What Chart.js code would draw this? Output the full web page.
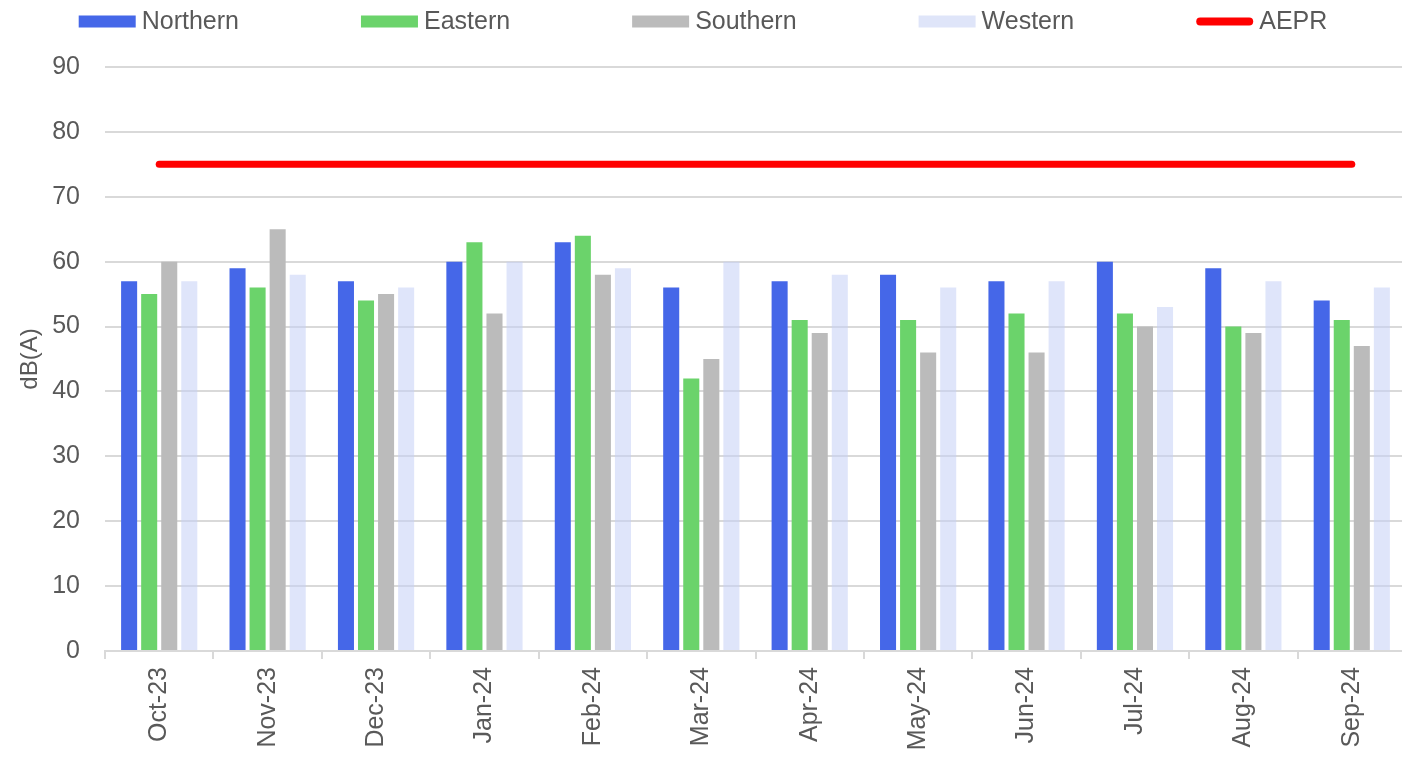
<!DOCTYPE html>
<html>
<head>
<meta charset="utf-8">
<script src="https://cdn.jsdelivr.net/npm/chart.js@4.4.1/dist/chart.umd.min.js"></script>
<style>
  html, body { margin: 0; padding: 0; background: #ffffff; overflow: hidden; }
  #wrap { width: 1402px; height: 760px; position: relative; overflow: hidden; }
  #noiseChart { display: block; }
</style>
</head>
<body>
<div id="wrap"><canvas id="noiseChart" width="1406" height="760"></canvas></div>
<script>
// Monthly average noise levels by region, dB(A)
const months   = ['Oct-23', 'Nov-23', 'Dec-23', 'Jan-24', 'Feb-24', 'Mar-24',
                  'Apr-24', 'May-24', 'Jun-24', 'Jul-24', 'Aug-24', 'Sep-24'];
const northern = [57, 59, 57, 60, 63, 56, 57, 58, 57, 60, 59, 54];
const eastern  = [55, 56, 54, 63, 64, 42, 51, 51, 52, 52, 50, 51];
const southern = [60, 65, 55, 52, 58, 45, 49, 46, 46, 50, 49, 47];
const western  = [57, 58, 56, 60, 59, 60, 58, 56, 57, 53, 57, 56];
const aepr     = [75, 75, 75, 75, 75, 75, 75, 75, 75, 75, 75, 75];
const yMin = 0, yMax = 90, yStep = 10;

const FONT = "'Liberation Sans', Arial, sans-serif";
const TEXT = '#595959';
const GRID = '#d9d9d9';

// Legend drawn across the top of the canvas
const topLegend = {
  id: 'topLegend',
  afterDraw(chart) {
    const ctx = chart.ctx;
    const size = 25, boxW = 57, boxH = 12, gapText = 6, gapItem = 122, cy = 21.5;
    ctx.save();
    ctx.font = size + 'px ' + FONT;
    const items = chart.data.datasets.map(ds => ({
      label: ds.label,
      isLine: ds.type === 'line',
      color: ds.type === 'line' ? ds.borderColor : ds.legendColor || ds.backgroundColor,
      w: boxW + gapText + ctx.measureText(ds.label).width
    }));
    const total = items.reduce((s, it) => s + it.w, 0) + gapItem * (items.length - 1);
    let x = (chart.width - total) / 2;
    ctx.textBaseline = 'middle';
    ctx.textAlign = 'left';
    items.forEach(it => {
      if (it.isLine) {
        ctx.strokeStyle = it.color;
        ctx.lineWidth = 8;
        ctx.lineCap = 'round';
        ctx.beginPath();
        ctx.moveTo(x + 4, cy);
        ctx.lineTo(x + boxW - 4, cy);
        ctx.stroke();
      } else {
        ctx.fillStyle = it.color;
        ctx.fillRect(x, cy - boxH / 2, boxW, boxH);
      }
      ctx.fillStyle = TEXT;
      ctx.fillText(it.label, x + boxW + gapText, cy + 1);
      x += it.w + gapItem;
    });
    ctx.restore();
  }
};

const barCommon = { categoryPercentage: 0.74, barPercentage: 0.8, borderWidth: 0 };

new Chart(document.getElementById('noiseChart'), {
  type: 'bar',
  data: {
    labels: months,
    datasets: [
      { label: 'Northern', data: northern, backgroundColor: '#4567e8', ...barCommon },
      { label: 'Eastern',  data: eastern,  backgroundColor: '#6bd36b', ...barCommon },
      { label: 'Southern', data: southern, backgroundColor: '#bbbbbb', ...barCommon },
      { label: 'Western',  data: western,  backgroundColor: 'rgba(196,208,245,0.55)',
        legendColor: '#dfe5f9', ...barCommon },
      { label: 'AEPR', type: 'line', data: aepr, borderColor: '#ff0000', borderWidth: 7,
        borderCapStyle: 'round', pointRadius: 0, fill: false, tension: 0 }
    ]
  },
  options: {
    responsive: false,
    devicePixelRatio: 1,
    animation: false,
    layout: { padding: { top: 67, right: 0, bottom: 0, left: 0 } },
    plugins: {
      legend: { display: false },
      tooltip: { enabled: false }
    },
    scales: {
      x: {
        ticks: { color: TEXT, font: { family: FONT, size: 25 }, minRotation: 90, maxRotation: 90, padding: 8 },
        grid: { drawOnChartArea: false, drawTicks: true, tickLength: 8, color: GRID, lineWidth: 2, offset: true },
        border: { color: GRID, width: 2 },
        afterFit(scale) { scale.height = 109; }
      },
      y: {
        min: yMin,
        max: yMax,
        ticks: { stepSize: yStep, color: TEXT, font: { family: FONT, size: 25 }, padding: 25 },
        grid: { color: GRID, lineWidth: 2, drawTicks: false },
        border: { display: false },
        title: { display: true, text: 'dB(A)', color: TEXT, font: { family: FONT, size: 24 }, padding: { top: 16, bottom: 0 } },
        afterFit(scale) { scale.width = 105; }
      }
    }
  },
  plugins: [topLegend]
});
</script>
</body>
</html>
